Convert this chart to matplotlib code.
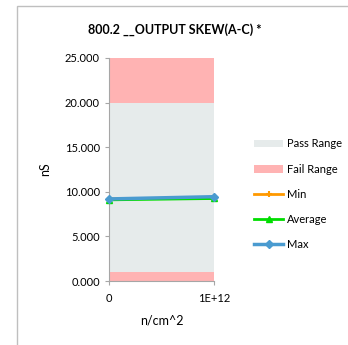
import matplotlib
matplotlib.use("Agg")
import matplotlib.pyplot as plt
from matplotlib.patches import Rectangle
from matplotlib.lines import Line2D
from matplotlib.patches import Patch

plt.rcParams['font.family'] = ['Lato', 'DejaVu Sans']

x_labels = ['0', '1E+12']
fail_low = [1.0, 1.0]
pass_range = [19.0, 19.0]
fail_high = [5.0, 5.0]
min_vals = [9.2, 9.3]
avg_vals = [9.1, 9.25]
max_vals = [9.2, 9.45]

title = '800.2 __OUTPUT SKEW(A-C) *'
y_label = 'nS'
x_label = 'n/cm^2'

pass_color = '#E6EBEB'
fail_color = '#FFB3B3'
min_color = '#FF9900'
avg_color = '#00DD00'
max_color = '#4A9BD0'
axis_gray = '#A6A6A6'

fig = plt.figure(figsize=(3.48, 3.45), dpi=100)
ax = fig.add_axes([109/348, 1-281/345, 105/348, 223/345])

xs = list(range(len(x_labels)))
ax.stackplot(xs, fail_low, pass_range, fail_high,
             colors=[fail_color, pass_color, fail_color], linewidth=0)

ax.plot(xs, min_vals, color=min_color, lw=2, marker='+', ms=5, mew=1.5, zorder=3, clip_on=False)
ax.plot(xs, avg_vals, color=avg_color, lw=2, marker='^', ms=5, zorder=4, clip_on=False)
ax.plot(xs, max_vals, color=max_color, lw=2.5, marker='D', ms=4.5, zorder=5, clip_on=False)

ax.set_xlim(0, 1)
ax.set_ylim(0, 25)
ax.set_yticks([0, 5, 10, 15, 20, 25])
ax.set_yticklabels([f'{v:.3f}' for v in [0, 5, 10, 15, 20, 25]])
ax.set_xticks(xs)
ax.set_xticklabels(x_labels)
for s in ['top', 'right']:
    ax.spines[s].set_visible(False)
for s in ['left', 'bottom']:
    ax.spines[s].set_color(axis_gray)
ax.tick_params(axis='both', colors=axis_gray, labelcolor='black', labelsize=8, length=3, direction='out')
ax.tick_params(axis='x', pad=6)
ax.set_ylabel(y_label, fontsize=9, labelpad=10)
ax.set_xlabel(x_label, fontsize=9, labelpad=7)

fig.text(175/348, 1-30/345, title, ha='center', va='center', fontsize=9, fontweight='bold')

# chart area border
fig.add_artist(Rectangle((17/348, -0.1), 1.2, 1-6/345+0.1, transform=fig.transFigure,
                         fill=False, edgecolor='#BFBFBF', lw=1))

handles = [Patch(facecolor=pass_color, edgecolor='none'),
           Patch(facecolor=fail_color, edgecolor='none'),
           Line2D([], [], color=min_color, lw=2, marker='+', ms=5, mew=1.5),
           Line2D([], [], color=avg_color, lw=2, marker='^', ms=5),
           Line2D([], [], color=max_color, lw=2.5, marker='D', ms=4)]
labels = ['Pass Range', 'Fail Range', 'Min', 'Average', 'Max']
fig.legend(handles, labels, loc='upper left', bbox_to_anchor=(250/348, 1-134/345),
           frameon=False, fontsize=8, handlelength=2.6, handletextpad=0.3,
           labelspacing=1.28, borderaxespad=0)

fig.savefig('out.png', dpi=100)
